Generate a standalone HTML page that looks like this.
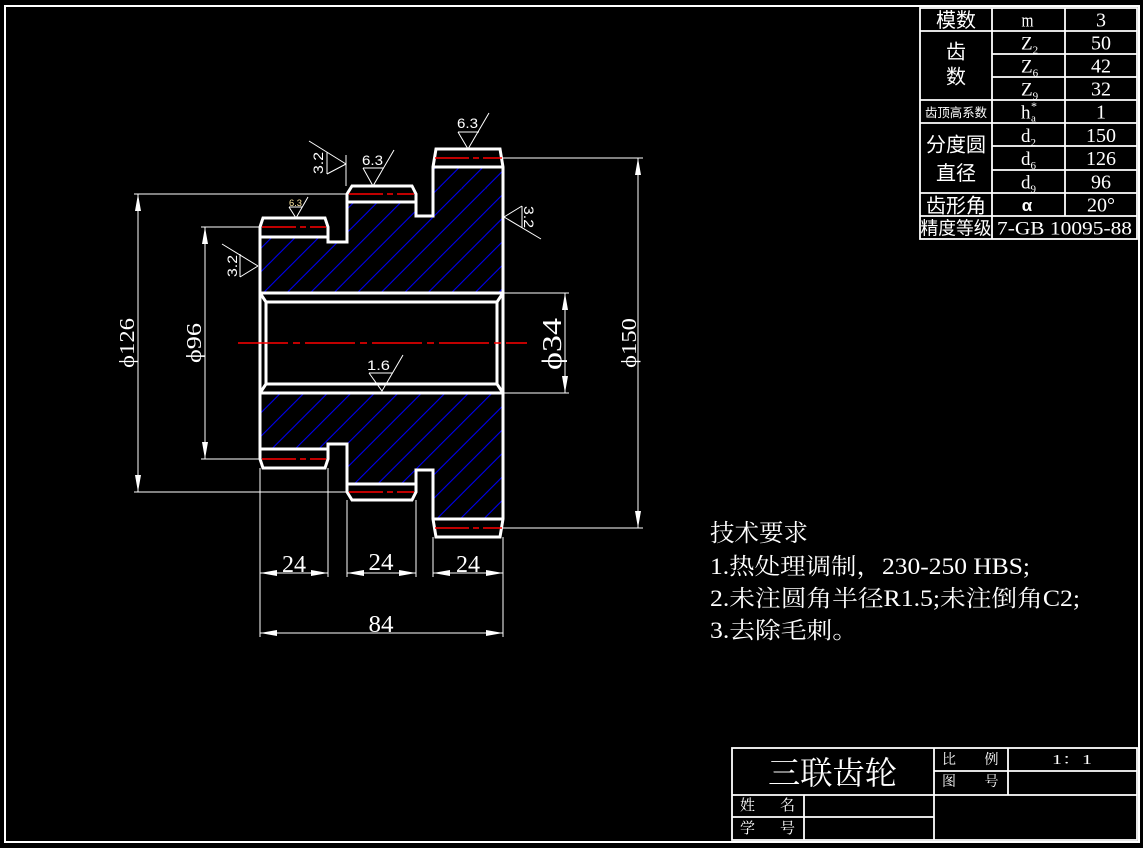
<!DOCTYPE html>
<html><head><meta charset="utf-8"><style>
html,body{margin:0;padding:0;background:#000;}
svg{display:block}
.t{fill:#fff;}
.cj{font-family:"Liberation Serif","Noto Serif CJK SC",serif;}
.cs{font-family:"Liberation Sans","Noto Sans CJK SC",sans-serif;}
.sf{font-family:"Liberation Serif","DejaVu Serif",serif;}
</style></head><body>
<svg width="1143" height="848" viewBox="0 0 1143 848" xmlns="http://www.w3.org/2000/svg">
<rect width="1143" height="848" fill="#000"/>
<defs>
<pattern id="hp" width="23.5" height="23.5" patternUnits="userSpaceOnUse" patternTransform="translate(15.7,0)">
<path d="M-2,2 L2,-2 M0,23.5 L23.5,0 M21.5,25.5 L25.5,21.5" stroke="#0000ff" stroke-width="1"/>
</pattern>
<g id="halfgear">
<path d="M260,293 V227 L263,218 H325 L328,227 V242 H347 V194 L352,186 H412 L416,194 V216 H433 V167 L436,149 H500 L503,167 V293" fill="none" stroke="#fff" stroke-width="3" stroke-linejoin="miter"/>
<path d="M260,237 H328 M347,202 H416 M433,167 H503 M260,293 H503" fill="none" stroke="#fff" stroke-width="3"/>
<path d="M262,227 H326 M349,194 H414 M435,158 H502" fill="none" stroke="#ff0000" stroke-width="1.6" stroke-dasharray="34,4,6,4"/>
</g>
</defs>

<!-- border -->
<rect x="5" y="6" width="1134" height="836" fill="none" stroke="#fff" stroke-width="2"/>

<!-- hatch -->
<path d="M260,237 H328 V242 H347 V202 H416 V216 H433 V167 H503 V293 H260 Z" fill="url(#hp)" stroke="none"/>
<path d="M260,449 H328 V444 H347 V484 H416 V470 H433 V519 H503 V393 H260 Z" fill="url(#hp)" stroke="none"/>

<!-- gear section -->
<use href="#halfgear"/>
<use href="#halfgear" transform="matrix(1 0 0 -1 0 686)"/>

<!-- bore -->
<g fill="none" stroke="#fff" stroke-width="3">
<path d="M260,293 V393 M503,293 V393"/>
<rect x="266" y="302" width="231" height="82"/>
<path d="M260,293 L266,302 M503,293 L497,302 M260,393 L266,384 M503,393 L497,384"/>
</g>

<!-- centerline -->
<path d="M238,343 H527" stroke="#ff0000" stroke-width="1.5" stroke-dasharray="50,5,7,5"/>

<!-- dimension & extension lines -->
<g fill="none" stroke="#fff" stroke-width="1">
<path d="M138,194 V492 M134,194 H347 M134,492 H347"/>
<path d="M205,227 V459 M201,227 H260 M201,459 H260"/>
<path d="M638,158 V528 M503,158 H643 M503,528 H643"/>
<path d="M565,293 V393 M503,293 H569 M503,393 H569"/>
<path d="M260,573 H328 M347,573 H416 M433,573 H503 M260,633 H503"/>
<path d="M260,468 V637 M328,468 V577 M347,500 V577 M416,500 V577 M433,537 V577 M503,537 V637"/>
<path d="M346,155 V186"/>
<!-- roughness symbols -->
<path d="M458,132 H479 M458,132 L468,149 L489,113"/>
<path d="M363,168 H384 M363,168 L373,186 L394,150"/>
<path d="M289,207 H302 M289,207 L296,218 L308,197"/>
<path d="M240,254 V277 M240,277 L258,266 M222,244 L258,266"/>
<path d="M327,152 V174 M327,174 L346,164 M309,141 L346,164"/>
<path d="M522,206 V228 M522,206 L504,217 M504,217 L541,239"/>
<path d="M369,373 H393 M369,373 L382,391 L403,355"/>
</g>

<!-- arrowheads -->
<g fill="#fff" stroke="none">
<path d="M138,194 L135,211 L141,211 Z M138,492 L135,475 L141,475 Z"/>
<path d="M205,227 L202,244 L208,244 Z M205,459 L202,442 L208,442 Z"/>
<path d="M638,158 L635,175 L641,175 Z M638,528 L635,511 L641,511 Z"/>
<path d="M565,293 L562,310 L568,310 Z M565,393 L562,376 L568,376 Z"/>
<path d="M260,573 L277,570 L277,576 Z M328,573 L311,570 L311,576 Z"/>
<path d="M347,573 L364,570 L364,576 Z M416,573 L399,570 L399,576 Z"/>
<path d="M433,573 L450,570 L450,576 Z M503,573 L486,570 L486,576 Z"/>
<path d="M260,633 L277,630 L277,636 Z M503,633 L486,630 L486,636 Z"/>
</g>

<!-- dimension texts -->
<g class="t sf">
<text transform="translate(134,343) rotate(-90)" text-anchor="middle" font-size="21" textLength="50" lengthAdjust="spacingAndGlyphs">ϕ126</text>
<text transform="translate(201,343) rotate(-90)" text-anchor="middle" font-size="21" textLength="40" lengthAdjust="spacingAndGlyphs">ϕ96</text>
<text transform="translate(636,343) rotate(-90)" text-anchor="middle" font-size="21" textLength="50" lengthAdjust="spacingAndGlyphs">ϕ150</text>
<text transform="translate(561,344) rotate(-90)" text-anchor="middle" font-size="27" textLength="52" lengthAdjust="spacingAndGlyphs">ϕ34</text>
<text x="294" y="572" text-anchor="middle" font-size="24" textLength="24" lengthAdjust="spacingAndGlyphs">24</text>
<text x="381" y="570" text-anchor="middle" font-size="24" textLength="25" lengthAdjust="spacingAndGlyphs">24</text>
<text x="468" y="572" text-anchor="middle" font-size="24" textLength="24" lengthAdjust="spacingAndGlyphs">24</text>
<text x="381" y="632" text-anchor="middle" font-size="24" textLength="25" lengthAdjust="spacingAndGlyphs">84</text>
</g>
<g class="t cs">
<text x="457" y="128" font-size="14" textLength="21" lengthAdjust="spacingAndGlyphs">6.3</text>
<text x="362" y="165" font-size="14" textLength="21" lengthAdjust="spacingAndGlyphs">6.3</text>
<text x="289" y="206" font-size="9" textLength="13" lengthAdjust="spacingAndGlyphs" fill="#ffe9a0">6.3</text>
<text transform="translate(237,266) rotate(-90)" text-anchor="middle" font-size="14" textLength="22" lengthAdjust="spacingAndGlyphs">3.2</text>
<text transform="translate(323,163) rotate(-90)" text-anchor="middle" font-size="14" textLength="22" lengthAdjust="spacingAndGlyphs">3.2</text>
<text transform="translate(524,217) rotate(90)" text-anchor="middle" font-size="14" textLength="22" lengthAdjust="spacingAndGlyphs">3.2</text>
<text x="367" y="370" font-size="14" textLength="23" lengthAdjust="spacingAndGlyphs">1.6</text>
</g>

<!-- top parameter table -->
<g fill="none" stroke="#fff" stroke-width="1.8">
<rect x="920" y="8" width="217" height="231"/>
<path d="M992,8 V239 M1065,8 V216"/>
<path d="M920,31 H1137 M992,54 H1137 M992,77 H1137 M920,100 H1137 M920,123 H1137 M992,146 H1137 M992,170 H1137 M920,193 H1137 M920,216 H1137"/>
</g>
<g class="t">
<text class="cs" x="956" y="27" font-size="20" text-anchor="middle">模数</text>
<text class="cs" x="956" y="58.5" font-size="20" text-anchor="middle">齿</text>
<text class="cs" x="956" y="83.5" font-size="20" text-anchor="middle">数</text>
<text class="cs" x="925" y="117" font-size="12.5" textLength="62" lengthAdjust="spacingAndGlyphs">齿顶高系数</text>
<text class="cs" x="956" y="151.5" font-size="20" text-anchor="middle">分度圆</text>
<text class="cs" x="956" y="180" font-size="20" text-anchor="middle">直径</text>
<text class="cs" x="956" y="212.5" font-size="20" text-anchor="middle">齿形角</text>
<text class="cs" x="920.5" y="234.5" font-size="18" textLength="71" lengthAdjust="spacingAndGlyphs">精度等级</text>

<g class="sf">
<text x="1027.5" y="26.5" font-size="19" text-anchor="middle" textLength="12" lengthAdjust="spacingAndGlyphs">m</text>
<text x="1021" y="49.5" font-size="19">Z<tspan font-size="11" dy="4">2</tspan></text>
<text x="1021" y="72.5" font-size="19">Z<tspan font-size="11" dy="4">6</tspan></text>
<text x="1021" y="95.5" font-size="19">Z<tspan font-size="11" dy="4">9</tspan></text>
<text x="1021" y="118.5" font-size="19">h</text>
<text x="1031" y="110" font-size="12">*</text>
<text x="1031" y="121.5" font-size="11">a</text>
<text x="1021" y="142" font-size="19">d<tspan font-size="11" dy="4">2</tspan></text>
<text x="1021" y="165" font-size="19">d<tspan font-size="11" dy="4">6</tspan></text>
<text x="1021" y="188.5" font-size="19">d<tspan font-size="11" dy="4">9</tspan></text>
<text x="1101" y="26.5" font-size="20" text-anchor="middle">3</text>
<text x="1101" y="49.5" font-size="20" text-anchor="middle">50</text>
<text x="1101" y="72.5" font-size="20" text-anchor="middle">42</text>
<text x="1101" y="95.5" font-size="20" text-anchor="middle">32</text>
<text x="1101" y="118.5" font-size="20" text-anchor="middle">1</text>
<text x="1101" y="142" font-size="20" text-anchor="middle">150</text>
<text x="1101" y="165" font-size="20" text-anchor="middle">126</text>
<text x="1101" y="188.5" font-size="20" text-anchor="middle">96</text>
<text x="1101" y="211.5" font-size="20" text-anchor="middle">20°</text>
<text x="997" y="234.5" font-size="19" textLength="135" lengthAdjust="spacingAndGlyphs">7-GB 10095-88</text>
</g>
<text class="cs" x="1027" y="211" font-size="17" font-weight="bold" text-anchor="middle">α</text>
</g>

<!-- technical requirements -->
<g class="t cj">
<text x="710" y="541" font-size="24" textLength="98" lengthAdjust="spacingAndGlyphs">技术要求</text>
<text x="710" y="574" font-size="23" textLength="320" lengthAdjust="spacingAndGlyphs">1.热处理调制，230-250 HBS;</text>
<text x="710" y="606" font-size="23" textLength="370" lengthAdjust="spacingAndGlyphs">2.未注圆角半径R1.5;未注倒角C2;</text>
<text x="710" y="638" font-size="23" textLength="148" lengthAdjust="spacingAndGlyphs">3.去除毛刺。</text>
</g>

<!-- title block -->
<g fill="none" stroke="#fff" stroke-width="1.8">
<rect x="732" y="748" width="405" height="92"/>
<path d="M934,748 V840 M732,795 H1137 M732,817 H934 M804,795 V840 M934,771 H1137 M1008,748 V795"/>
</g>
<g class="t cj">
<text x="768" y="784" font-size="32" textLength="129" lengthAdjust="spacingAndGlyphs">三联齿轮</text>
<text x="949" y="764" font-size="14" text-anchor="middle">比</text>
<text x="991.5" y="764" font-size="14" text-anchor="middle">例</text>
<text x="949" y="786" font-size="14" text-anchor="middle">图</text>
<text x="991.5" y="786" font-size="14" text-anchor="middle">号</text>
<text x="1052" y="764" font-size="14" textLength="40" lengthAdjust="spacingAndGlyphs">1：1</text>
<text x="747.5" y="810" font-size="15" text-anchor="middle">姓</text>
<text x="787.5" y="810" font-size="15" text-anchor="middle">名</text>
<text x="747.5" y="833" font-size="15" text-anchor="middle">学</text>
<text x="787.5" y="833" font-size="15" text-anchor="middle">号</text>
</g>
</svg>
</body></html>
